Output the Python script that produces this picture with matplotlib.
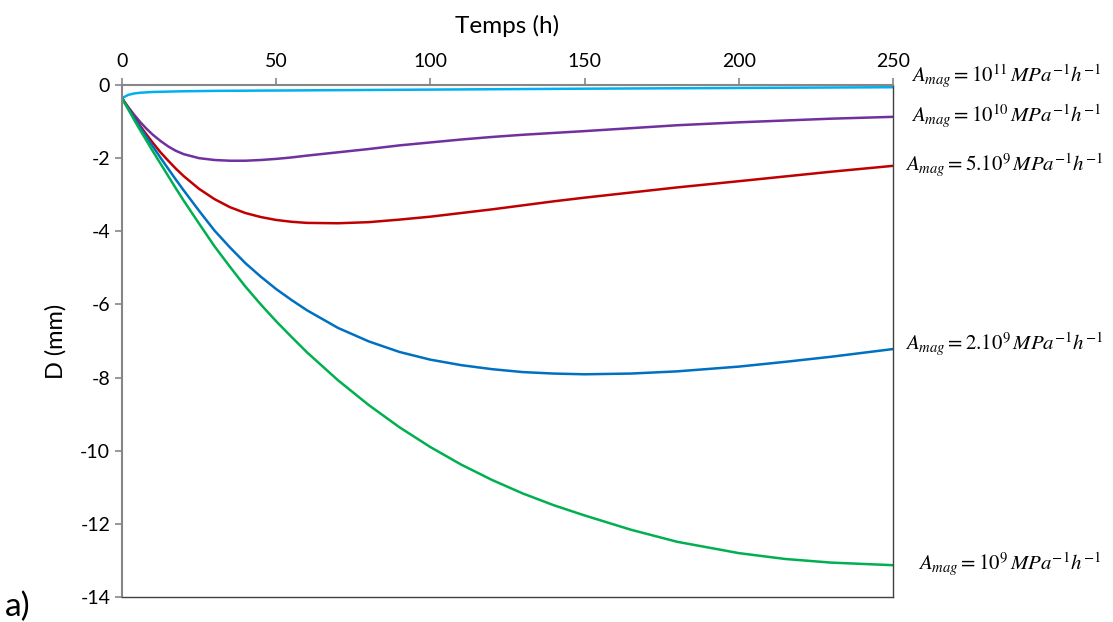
import matplotlib
matplotlib.use("Agg")
import matplotlib.pyplot as plt

plt.rcParams["font.family"] = ["Lato", "DejaVu Sans"]
plt.rcParams["mathtext.fontset"] = "stix"
plt.rcParams["axes.unicode_minus"] = False

# Time (h) and displacement D (mm)
temps = [0, 2, 4, 6, 8, 10, 12.5, 15, 17.5, 20, 25, 30, 35, 40, 45, 50, 55, 60,
         70, 80, 90, 100, 110, 120, 130, 140, 150, 165, 180, 200, 215, 230, 250]

d_1e11 = [-0.36, -0.27, -0.23, -0.21, -0.20, -0.19, -0.185, -0.18, -0.175, -0.17,
          -0.165, -0.16, -0.157, -0.155, -0.152, -0.15, -0.148, -0.145,
          -0.14, -0.135, -0.13, -0.125, -0.12, -0.115, -0.11, -0.105, -0.10,
          -0.094, -0.088, -0.08, -0.074, -0.068, -0.06]
d_1e10 = [-0.36, -0.60, -0.82, -1.02, -1.20, -1.36, -1.53, -1.68, -1.80, -1.89,
          -2.00, -2.05, -2.07, -2.07, -2.05, -2.02, -1.98, -1.93,
          -1.84, -1.75, -1.65, -1.57, -1.49, -1.42, -1.36, -1.31, -1.26,
          -1.18, -1.10, -1.02, -0.97, -0.92, -0.87]
d_5e9 = [-0.36, -0.63, -0.89, -1.13, -1.36, -1.58, -1.84, -2.07, -2.29, -2.49,
         -2.84, -3.12, -3.34, -3.50, -3.61, -3.69, -3.74, -3.77,
         -3.78, -3.75, -3.68, -3.60, -3.50, -3.40, -3.29, -3.18, -3.08,
         -2.94, -2.80, -2.63, -2.50, -2.37, -2.21]
d_2e9 = [-0.36, -0.64, -0.91, -1.17, -1.43, -1.68, -1.99, -2.29, -2.59, -2.88,
         -3.44, -3.98, -4.44, -4.87, -5.24, -5.58, -5.88, -6.16,
         -6.64, -7.01, -7.30, -7.51, -7.66, -7.77, -7.85, -7.89, -7.91,
         -7.89, -7.83, -7.70, -7.57, -7.43, -7.22]
d_1e9 = [-0.36, -0.66, -0.96, -1.25, -1.53, -1.81, -2.15, -2.49, -2.83, -3.16,
         -3.79, -4.41, -4.97, -5.51, -6.00, -6.46, -6.89, -7.31,
         -8.07, -8.75, -9.36, -9.90, -10.38, -10.80, -11.17, -11.49, -11.77,
         -12.16, -12.49, -12.80, -12.96, -13.06, -13.13]

labels = [r"$A_{mag}=10^{11}\,MPa^{-1}h^{-1}$",
          r"$A_{mag}=10^{10}\,MPa^{-1}h^{-1}$",
          r"$A_{mag}=5.10^{9}\,MPa^{-1}h^{-1}$",
          r"$A_{mag}=2.10^{9}\,MPa^{-1}h^{-1}$",
          r"$A_{mag}=10^{9}\,MPa^{-1}h^{-1}$"]
label_y = [0.25, -0.85, -2.2, -7.1, -13.1]
label_x = [256, 256, 254, 254, 258]

series = [d_1e11, d_1e10, d_5e9, d_2e9, d_1e9]
colors = ["#00B0F0", "#7030A0", "#C00000", "#0070C0", "#00B050"]

fig = plt.figure(figsize=(11.13, 6.22), dpi=100)
ax = fig.add_axes([0.1096, 0.0402, 0.6927, 0.8231])

for d, c in zip(series, colors):
    ax.plot(temps, d, color=c, linewidth=1.8, solid_joinstyle="round")

for lab, x, y in zip(labels, label_x, label_y):
    ax.text(x, y, lab, fontsize=15, va="center", ha="left", clip_on=False)

ax.set_xlim(0, 250)
ax.set_ylim(-14, 0)
ax.set_xticks(range(0, 251, 50))
ax.set_yticks(range(-14, 1, 2))
ax.xaxis.tick_top()
ax.xaxis.set_label_position("top")
ax.set_xlabel("Temps (h)", fontsize=17.5, labelpad=14)
ax.set_ylabel("D (mm)", fontsize=17, labelpad=10)
ax.tick_params(axis="both", labelsize=14, color="#868686", length=5, width=1.2)
ax.tick_params(axis="x", pad=6)

for side in ["top", "left"]:
    ax.spines[side].set_color("#868686")
    ax.spines[side].set_linewidth(1.5)
for side in ["right", "bottom"]:
    ax.spines[side].set_color("#404040")
    ax.spines[side].set_linewidth(1.0)

fig.text(0.004, 0.0, "a)", fontsize=24, ha="left", va="bottom")

fig.savefig("out.png", dpi=100)
